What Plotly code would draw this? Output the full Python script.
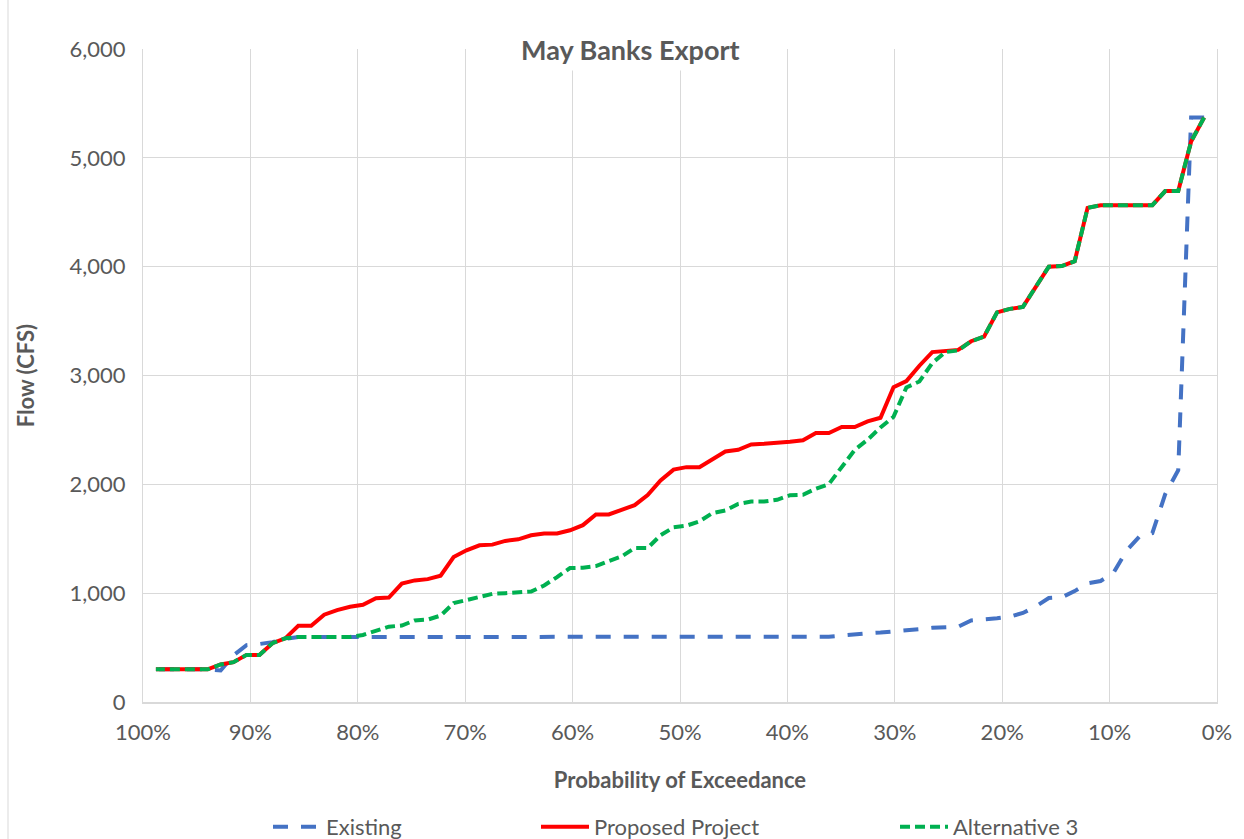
import plotly.graph_objects as go

# Probability of exceedance (%) for each ranked value (rank 1 = highest flow)
exceedance = [1.20, 2.41, 3.61, 4.82, 6.02, 7.23, 8.43, 9.64, 10.84, 12.05,
              13.25, 14.46, 15.66, 16.87, 18.07, 19.28, 20.48, 21.69, 22.89, 24.10,
              25.30, 26.51, 27.71, 28.92, 30.12, 31.33, 32.53, 33.73, 34.94, 36.14,
              37.35, 38.55, 39.76, 40.96, 42.17, 43.37, 44.58, 45.78, 46.99, 48.19,
              49.40, 50.60, 51.81, 53.01, 54.22, 55.42, 56.63, 57.83, 59.04, 60.24,
              61.45, 62.65, 63.86, 65.06, 66.27, 67.47, 68.67, 69.88, 71.08, 72.29,
              73.49, 74.70, 75.90, 77.11, 78.31, 79.52, 80.72, 81.93, 83.13, 84.34,
              85.54, 86.75, 87.95, 89.16, 90.36, 91.57, 92.77, 93.98, 95.18, 96.39,
              97.59, 98.80]

existing = [5370, 5370, 2130, 1910, 1551, 1520, 1390, 1186, 1112, 1091,
            1019, 962, 955, 878, 818, 784, 769, 762, 749, 692,
            688, 682, 670, 658, 643, 638, 631, 618, 605, 600,
            600, 600, 600, 600, 600, 600, 600, 600, 600, 600,
            600, 600, 600, 600, 600, 600, 600, 600, 600, 600,
            600, 600, 600, 600, 600, 600, 600, 600, 600, 600,
            600, 600, 600, 600, 600, 600, 600, 600, 600, 600,
            597, 580, 550, 533, 522, 430, 290, 300, 300, 300,
            300, 300]

proposed = [5370, 5150, 4695, 4695, 4565, 4565, 4565, 4565, 4565, 4540,
            4050, 4005, 4000, 3815, 3630, 3612, 3580, 3357, 3315, 3235,
            3225, 3215, 3090, 2948, 2893, 2612, 2578, 2527, 2527, 2472,
            2472, 2405, 2392, 2380, 2372, 2366, 2317, 2302, 2234, 2158,
            2158, 2135, 2035, 1902, 1809, 1763, 1723, 1723, 1625, 1578,
            1548, 1548, 1532, 1495, 1480, 1446, 1440, 1394, 1332, 1160,
            1129, 1117, 1088, 960, 954, 893, 875, 845, 802, 701,
            701, 585, 540, 433, 433, 366, 345, 300, 300, 300,
            300, 300]

alternative3 = [5370, 5150, 4695, 4695, 4565, 4565, 4565, 4565, 4565, 4540,
                4050, 4005, 4000, 3815, 3630, 3612, 3580, 3357, 3315, 3230,
                3215, 3115, 2945, 2890, 2620, 2522, 2410, 2317, 2162, 2002,
                1960, 1904, 1900, 1858, 1842, 1842, 1820, 1760, 1735, 1660,
                1620, 1605, 1532, 1415, 1415, 1338, 1295, 1249, 1234, 1231,
                1148, 1071, 1015, 1003, 1000, 994, 963, 932, 908, 794,
                757, 750, 703, 692, 655, 616, 598, 598, 598, 598,
                598, 585, 540, 433, 433, 366, 345, 300, 300, 300,
                300, 300]

x_ticks = [100, 90, 80, 70, 60, 50, 40, 30, 20, 10, 0]
y_ticks = [0, 1000, 2000, 3000, 4000, 5000, 6000]

FONT = "Lato, Roboto, sans-serif"
GRAY = "#595959"
GRID = "#d9d9d9"
FS = 22

fig = go.Figure()
fig.add_trace(go.Scatter(x=exceedance, y=existing, mode="lines", name="Existing",
                         line=dict(color="#4472C4", width=4, dash="15px,13px"),
                         legend="legend"))
fig.add_trace(go.Scatter(x=exceedance, y=proposed, mode="lines", name="Proposed Project",
                         line=dict(color="#FF0000", width=4),
                         legend="legend2"))
fig.add_trace(go.Scatter(x=exceedance, y=alternative3, mode="lines", name="Alternative 3",
                         line=dict(color="#00B050", width=4, dash="10px,5px"),
                         legend="legend3"))

W, H = 1244, 839
L, R, T, B = 143, 27, 49, 137
pw = W - L - R
ph = H - T - B

def px(xp):
    return (xp - L) / pw

def py(yp):
    return (H - B - yp) / ph

legend_common = dict(orientation="h", yanchor="middle", xanchor="left",
                     font=dict(family=FONT, size=FS, color=GRAY),
                     bgcolor="rgba(0,0,0,0)", itemwidth=48, tracegroupgap=0)

fig.update_layout(
    width=W, height=H,
    margin=dict(l=L, r=R, t=T, b=B, autoexpand=False),
    paper_bgcolor="white", plot_bgcolor="white",
    font=dict(family=FONT, size=FS, color=GRAY),
    showlegend=True,
    legend=dict(x=px(268), y=py(827), **legend_common),
    legend2=dict(x=px(536), y=py(827), **legend_common),
    legend3=dict(x=px(895), y=py(827), **legend_common),
    xaxis=dict(range=[100, 0], tickvals=x_ticks, ticktext=[f"{v}%" for v in x_ticks],
               showgrid=True, gridcolor=GRID, gridwidth=1,
               showline=True, linecolor=GRID, linewidth=1.5,
               ticks="outside", ticklen=10, tickcolor="rgba(0,0,0,0)",
               zeroline=False,
               tickfont=dict(family=FONT, size=FS, color=GRAY),
               title=dict(text="<b>Probability of Exceedance</b>", standoff=28,
                          font=dict(family=FONT, size=FS, color=GRAY))),
    yaxis=dict(range=[0, 6000], tickvals=y_ticks, tickformat=",",
               showgrid=True, gridcolor=GRID, gridwidth=1,
               showline=True, linecolor=GRID, linewidth=1, mirror=True,
               ticks="outside", ticklen=12, tickcolor="rgba(0,0,0,0)",
               zeroline=False,
               tickfont=dict(family=FONT, size=FS, color=GRAY),
               title=dict(text="<b>Flow (CFS)</b>", standoff=28,
                          font=dict(family=FONT, size=FS, color=GRAY))),
    annotations=[dict(text="<b>May Banks Export</b>", xref="paper", yref="paper",
                      x=px(630), y=1.0, xanchor="center", yanchor="middle",
                      showarrow=False, bgcolor="white", borderpad=4,
                      font=dict(family=FONT, size=27, color=GRAY))],
    shapes=[dict(type="line", xref="paper", yref="paper",
                 x0=px(8), x1=px(8), y0=py(0), y1=py(839),
                 line=dict(color=GRID, width=1))],
)

fig.write_html("out.html", config={"displayModeBar": False},
               post_script="document.body.style.margin='0';document.body.style.overflow='hidden';")
